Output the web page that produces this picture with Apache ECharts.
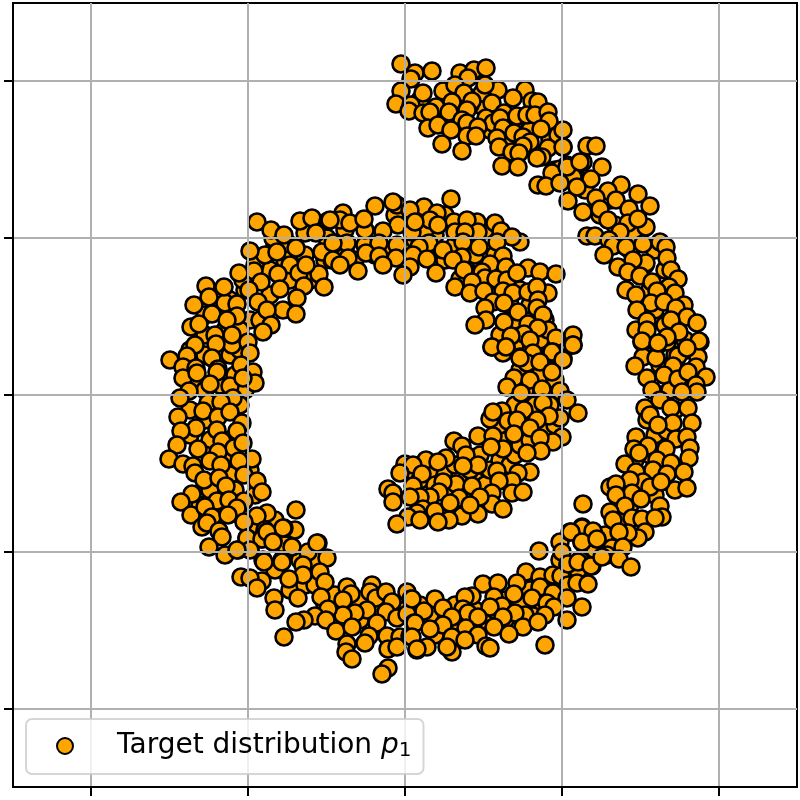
<!DOCTYPE html>
<html>
<head>
<meta charset="utf-8">
<title>Target distribution</title>
<script src="https://cdn.jsdelivr.net/npm/echarts@6/dist/echarts.min.js"></script>
<style>
	html, body { margin: 0; padding: 0; background: #fff; }
	#main { width: 800px; height: 800px; }
</style>
</head>
<body>
<div id="main"></div>
<script>
	// values, one grid cell = 157 units, origin at the centre grid crossing
	var tickValues = [-314, -157, 0, 157, 314];
	var seriesName = 'Target distribution p1';

	// points mostly hidden under the others, drawn first
	var hiddenInner = [[5,-75],[15,-85],[25,-75],[30,-90],[40,-80],[45,-95],[55,-80],[60,-95],[70,-85],[80,-90],[85,-75],[75,-60],[65,-75],[50,-70],[95,-65],[105,-70],[110,-60],[100,-40],[115,-50],[125,-45],[95,-30],[110,-10],[125,-25],[130,-10],[140,-35],[145,-10],[150,-30],[120,5],[135,20],[150,15],[115,25],[130,45],[110,50],[120,65],[135,55],[150,40],[110,75],[125,90],[140,75],[95,60],[105,90],[115,105],[95,95],[80,110],[70,120],[85,120],[100,130],[60,130],[40,135],[20,140],[0,145],[-20,145],[-40,150],[-60,145],[-80,135],[-50,135],[-30,140],[10,155],[30,160],[50,150],[70,140],[90,140],[60,170],[20,165],[-10,180],[-40,165],[-60,165],[40,180],[80,165]];
	var hiddenOuter = [[-130,150],[-115,150],[-100,140],[-120,135],[-135,125],[-115,115],[-95,115],[-135,100],[-150,130],[-160,105],[-175,95],[-185,85],[-155,75],[-145,75],[-165,65],[-180,65],[-200,80],[-200,60],[-215,45],[-200,40],[-175,40],[-165,45],[-210,15],[-200,5],[-185,10],[-160,5],[-170,20],[-215,-15],[-200,-25],[-180,-15],[-165,-10],[-215,-40],[-195,-45],[-175,-45],[-200,-60],[-175,-60],[-155,-75],[-175,-80],[-195,-95],[-170,-95],[-150,-100],[-205,-110],[-185,-120],[-165,-120],[-150,-135],[-130,-125],[-125,-145],[-110,-135],[-105,-165],[-120,-150],[-90,-165],[-130,-175],[-115,-195],[-100,-190],[-90,-190],[-80,-210],[-70,-200],[-60,-215],[-45,-205],[-45,-225],[-30,-215],[-15,-210],[0,-215],[15,-210],[-70,-225],[25,-220],[30,-240],[45,-225],[50,-210],[55,-235],[70,-215],[80,-225],[90,-215],[100,-205],[100,-225],[115,-210],[125,-195],[140,-190],[135,-210],[150,-190],[165,-180],[155,-165],[180,-160],[190,-155],[200,-140],[215,-125],[225,-110],[215,-105],[235,-95],[250,-100],[230,-65],[245,-60],[255,-75],[265,-40],[250,-40],[270,-15],[255,0],[265,5],[280,10],[270,40],[255,30],[280,55],[260,70],[250,85],[270,85],[245,105],[260,125],[240,130],[250,145],[225,145],[230,160],[210,170],[195,180],[205,195],[180,205],[165,215],[150,225],[135,240],[120,250],[110,265],[100,255],[85,265],[75,290],[45,280],[30,280],[40,295],[15,295],[65,290],[125,265],[145,255],[175,215]];

	var upperLeftArc = [[-73,135],[-115,130],[-70,152],[-78,157],[-100,162],[-132,157],[-122,85],[-162,115],[-180,92],[-173,50],[-210,50],
		[-148,173],[-134,165],[-121,160],[-105,174],[-93,177],[-77,174],[-89,162],[-109,147],[-83,143],[-140,140],[-155,144],[-128,143],[-151,124],[-127,121],[-106,122],[-86,121],[-99,130],[-144,113],[-125,106],[-101,109],[-81,108],[-108,97],[-109,81],[-156,105],[-166,122],[-181,108],[-199,109],[-196,98],[-211,90],[-168,91],[-193,81],[-147,93],[-138,85],[-134,70],[-142,63],[-168,79],[-178,75],[-214,68],[-206,71],[-173,60],[-190,60],[-189,51],[-157,53],[-155,42],[-235,35],[-218,39],[-222,28],[-209,27],[-193,37],[-187,26],[-164,30],[-152,23]];

	var leftArc = [[-222,17],[-208,22],[-188,23],[-195,11],[-175,9],[-150,12],[-162,17],[-216,4],[-225,-3],[-172,-3],[-197,-8],[-184,-7],[-202,-16],[-227,-22],[-187,-22],[-175,-17],[-163,-28],[-209,-33],[-224,-36],[-168,-36],[-188,-35],[-183,-46],[-228,-50],[-207,-54],[-171,-53],[-162,-48],[-187,-57],[-236,-64],[-222,-69],[-153,-64],[-195,-66],[-184,-70],[-166,-66],[-212,-71],[-210,-78],[-161,-80],[-201,-85],[-186,-83],[-179,-91],[-148,-86],[-143,-97],[-213,-99],[-224,-107],[-188,-106],[-176,-105],[-161,-106],[-168,-113],[-214,-120],[-200,-112],[-193,-122],[-177,-120],[-138,-118],[-148,-121],[-161,-127],[-203,-132],[-198,-128],[-109,-115],[-121,-133],[-140,-135],[-186,-136],[-183,-142],[-143,-144],[-132,-146],[-158,-143],[-196,-152],[-113,-152],[-87,-148],[-97,-157],[-167,-155],[-155,-154],[-142,-165],[-123,-165],[-78,-163],[-180,-160]];

	var lowerArc = [[-122,-133],[-88,-148],[-143,-143],[-158,-143],[-143,-144],[-138,-137],[-132,-147],[-155,-155],[-168,-155],[-141,-167],[-123,-167],[-102,-170],[-85,-177],[-102,-180],[-116,-184],[-143,-186],[-164,-182],[-155,-183],[-148,-193],[-80,-187],[-131,-203],[-130,-215],[-107,-203],[-84,-202],[-58,-192],[-54,-199],[-62,-205],[-33,-190],[-35,-197],[-29,-203],[-19,-197],[-13,-207],[2,-197],[6,-204],[-38,-215],[-19,-217],[-50,-218],[-62,-220],[-77,-214],[-90,-221],[-79,-225],[-101,-225],[-109,-227],[-69,-236],[-53,-232],[-28,-228],[-8,-223],[2,-219],[9,-228],[-121,-242],[-36,-241],[-18,-241],[-58,-249],[-40,-248],[-5,-242],[5,-241],[-59,-257],[-53,-264],[-17,-254],[-8,-252],[-17,-273],[-23,-279],[12,-255]];

	var lowerRightArc = [[134,-156],[155,-147],[165,-137],[177,-132],[188,-137],[177,-147],[192,-144],[157,-157],[163,-170],[173,-175],[187,-171],[175,-165],[121,-177],[135,-182],[148,-180],[156,-181],[163,-190],[172,-188],[183,-189],[135,-192],[78,-189],[93,-188],[112,-188],[109,-199],[89,-202],[67,-201],[60,-202],[127,-203],[148,-198],[162,-203],[30,-204],[7,-204],[38,-213],[19,-216],[97,-211],[85,-212],[142,-208],[149,-212],[177,-212],[58,-214],[63,-218],[73,-222],[47,-222],[128,-221],[120,-220],[110,-218],[140,-220],[98,-222],[162,-225],[10,-228],[38,-230],[25,-234],[89,-232],[61,-233],[118,-232],[133,-227],[73,-240],[104,-239],[47,-242],[7,-242],[60,-245],[81,-251],[85,-253],[22,-252],[12,-254],[47,-257],[42,-252],[140,-250]];

	var rightArc = [[237,53],[253,50],[295,53],[282,45],[262,53],[238,38],[230,29],[251,37],[273,39],[293,38],[268,29],[291,28],[301,18],[259,20],[242,17],[273,16],[283,23],[247,5],[291,10],[292,3],[277,3],[255,-5],[240,-13],[266,-13],[283,-13],[242,-25],[245,-20],[287,-28],[262,-36],[268,-28],[253,-30],[231,-42],[243,-51],[271,-44],[282,-42],[229,-54],[234,-58],[261,-54],[285,-53],[284,-63],[220,-69],[252,-65],[266,-68],[231,-77],[248,-75],[262,-79],[279,-77],[238,-87],[225,-85],[205,-92],[211,-89],[245,-92],[270,-95],[282,-93],[256,-87],[227,-98],[211,-100],[236,-104],[220,-111],[255,-111],[205,-117],[208,-125],[227,-123],[237,-124],[257,-122],[250,-123],[240,-137],[233,-143],[223,-138],[214,-137],[177,-133],[166,-137],[188,-136],[177,-147],[192,-144],[207,-153],[202,-160],[218,-152],[214,-164],[163,-169],[173,-167],[186,-171],[197,-162],[226,-172],[178,-109]];

	var upperRightArc = [[182,249],[191,249],[178,233],[197,228],[169,218],[186,216],[162,230],[158,248],[216,210],[203,204],[233,201],[191,197],[211,195],[163,194],[245,189],[178,183],[195,186],[224,186],[203,175],[223,172],[241,168],[233,176],[215,163],[182,159],[190,159],[204,155],[208,149],[221,148],[238,151],[255,153],[261,148],[199,140],[262,137],[241,132],[228,135],[213,128],[223,123],[266,125],[273,116],[235,119],[247,113],[264,108],[221,105],[231,100],[270,102],[252,104],[246,92],[259,93],[279,90],[232,85],[271,87],[282,78],[292,72],[231,65],[242,74],[266,75],[242,65],[274,63],[262,58],[294,54],[237,54],[282,47],[253,52]];

	var topArc = [[-4,331],[10,322],[27,324],[6,316],[55,322],[69,325],[81,327],[63,317],[-4,304],[18,302],[-9,291],[6,290],[4,284],[38,304],[50,310],[59,302],[77,302],[93,305],[120,305],[80,310],[108,297],[47,293],[67,294],[87,292],[127,294],[133,293],[31,288],[18,282],[25,283],[44,283],[62,285],[99,282],[112,279],[122,280],[130,280],[143,283],[81,277],[88,272],[95,277],[57,275],[62,272],[144,274],[23,267],[33,270],[46,265],[73,268],[98,267],[109,262],[136,266],[153,260],[158,265],[62,259],[71,259],[92,257],[118,258],[125,253],[37,251],[94,248],[118,249],[143,247],[158,248],[107,243],[114,242],[57,244],[137,238],[132,237],[97,229],[113,228],[155,226],[147,222],[168,218],[162,228],[133,210],[141,209],[155,212],[175,233],[172,208]];

	var innerTopArc = [[46,196],[-30,189],[-8,190],[-12,193],[19,188],[32,182],[5,185],[-62,182],[-65,175],[-75,175],[-55,172],[-41,176],[-7,170],[25,175],[49,173],[72,173],[90,172],[62,175],[96,164],[-22,164],[7,163],[10,173],[33,170],[50,163],[73,163],[60,163],[115,153],[107,158],[-58,152],[-72,152],[-26,152],[-8,150],[24,152],[14,148],[58,153],[74,148],[92,153],[38,145],[-39,142],[-26,139],[-9,137],[8,140],[22,136],[57,138],[48,135],[98,139],[85,131],[-72,135],[-57,137],[-65,130],[-22,130],[-47,124],[5,128],[-2,120],[31,122],[101,128],[123,127],[135,123],[151,121],[55,116],[59,125],[77,123],[80,117],[91,116],[67,113],[102,115],[112,122],[50,108],[65,102],[79,104],[98,104],[108,102],[123,103],[143,102],[132,108],[88,93],[99,92],[80,87],[133,95],[132,87],[113,83],[138,80],[81,75],[99,73],[70,70],[123,71],[143,65],[133,67],[119,61],[106,59],[125,55],[151,57],[87,48],[101,48],[168,60],[168,50],[148,43],[115,38],[98,42],[128,42],[158,37]];

	var innerTailArc = [[87,48],[101,48],[168,50],[147,43],[122,32],[115,37],[135,33],[158,35],[147,23],[109,17],[125,15],[102,8],[137,6],[155,4],[116,2],[162,-5],[138,-8],[97,-16],[119,-15],[173,-18],[85,-24],[88,-17],[155,-23],[144,-21],[132,-25],[103,-26],[112,-25],[125,-33],[157,-42],[148,-47],[135,-43],[109,-39],[73,-41],[88,-41],[49,-46],[98,-54],[86,-52],[136,-56],[122,-58],[57,-51],[41,-63],[61,-60],[73,-70],[58,-71],[21,-65],[0,-69],[8,-70],[92,-76],[33,-67],[17,-79],[-5,-78],[125,-77],[113,-78],[107,-86],[94,-86],[51,-89],[67,-91],[38,-87],[8,-91],[-17,-94],[-12,-98],[87,-98],[107,-98],[118,-97],[34,-97],[54,-103],[25,-102],[15,-102],[-12,-107],[87,-109],[98,-114],[73,-119],[57,-121],[18,-114],[30,-116],[44,-125],[33,-127],[12,-118],[3,-122],[-8,-129],[75,-102],[45,-108],[65,-110],[15,-125],[5,-102]];

	var targetPoints = [].concat(hiddenInner, hiddenOuter, upperLeftArc, leftArc, lowerArc, lowerRightArc, rightArc, upperRightArc, topArc, innerTopArc, innerTailArc);

	var chart = echarts.init(document.getElementById('main'));
	var axisStyle = { color: '#000', width: 2 };
	var gridStyle = { color: '#b0b0b0', width: 2 };

	chart.setOption({
		animation: false,
		grid: { left: 13, right: 3, top: 3, bottom: 13, show: true, borderColor: '#000', borderWidth: 2, backgroundColor: '#fff', z: 0 },
		legend: {
			left: 26, top: 719, padding: [13, 12, 13, 30], z: 10,
			data: [seriesName],
			icon: 'circle',
			itemWidth: 16, itemHeight: 16,
			backgroundColor: 'rgba(255,255,255,0.8)',
			borderColor: 'rgba(204,204,204,0.8)', borderWidth: 2, borderRadius: 6,
			selectedMode: false,
			formatter: function () { return 'Target distribution {p|p}{sub|1}'; },
			textStyle: {
				fontFamily: 'DejaVu Sans', fontSize: 28, color: '#000', padding: [0, 0, 0, 39],
				rich: {
					p: { fontFamily: 'DejaVu Sans', fontStyle: 'italic', fontSize: 28, color: '#000' },
					sub: { fontFamily: 'DejaVu Sans', fontSize: 20, color: '#000', verticalAlign: 'bottom', padding: [10, 0, 0, 0] }
				}
			}
		},
		xAxis: {
			type: 'value', min: -392, max: 392, z: 3,
			axisLine: { show: true, onZero: false, lineStyle: axisStyle },
			axisTick: { show: true, length: 9, customValues: tickValues, lineStyle: axisStyle },
			axisLabel: { show: false, customValues: tickValues },
			splitLine: { show: true, lineStyle: gridStyle }
		},
		yAxis: {
			type: 'value', min: -392, max: 392, z: 3,
			axisLine: { show: true, onZero: false, lineStyle: axisStyle },
			axisTick: { show: true, length: 9, customValues: tickValues, lineStyle: axisStyle },
			axisLabel: { show: false, customValues: tickValues },
			splitLine: { show: true, lineStyle: gridStyle }
		},
		series: [{
			name: seriesName,
			type: 'scatter',
			z: 2,
			symbol: 'circle',
			symbolSize: 17,
			itemStyle: { color: '#ffa500', borderColor: '#000', borderWidth: 2.6, opacity: 1 },
			emphasis: { disabled: true },
			data: targetPoints
		}]
	});
</script>
</body>
</html>
